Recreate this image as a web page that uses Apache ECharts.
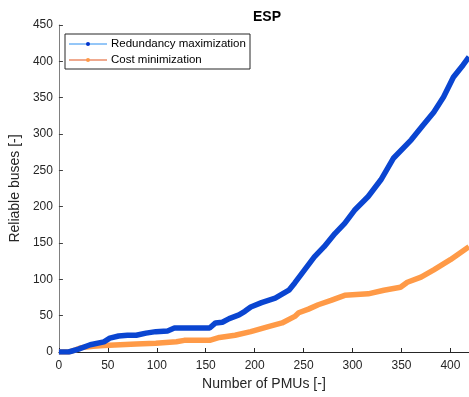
<!DOCTYPE html>
<html>
<head>
<meta charset="utf-8">
<script src="https://cdn.jsdelivr.net/npm/echarts@6/dist/echarts.min.js"></script>
<style>
  html, body { margin: 0; padding: 0; background: #fff; }
  #main { width: 469px; height: 397px; }
</style>
</head>
<body>
<div id="main"></div>
<script>
var xTicks = [0, 50, 100, 150, 200, 250, 300, 350, 400];
var yTicks = [0, 50, 100, 150, 200, 250, 300, 350, 400, 450];

// Redundancy maximization
var redX = [0, 10, 20, 32, 46, 52, 61, 70, 79, 89, 99, 111, 118, 133, 154, 160, 167, 174, 184, 190, 196, 207, 221, 235, 241, 251, 261, 271, 282, 292, 302, 316, 329, 342, 360, 372, 383, 393, 403, 413, 419];
var redY = [0, 0, 4, 10, 14, 19, 22, 23, 23, 26, 28, 29, 33, 33, 33, 40, 41, 46, 51, 56, 62, 68, 74, 85, 95, 113, 131, 145, 163, 177, 195, 214, 237, 267, 292, 312, 330, 351, 378, 395, 406];

// Cost minimization
var costX = [0, 10, 17, 23, 35, 46, 79, 99, 120, 128, 154, 164, 180, 196, 214, 228, 241, 245, 255, 265, 278, 292, 316, 332, 349, 356, 370, 383, 400, 419];
var costY = [0, 0, 3, 6, 8, 9, 11, 12, 14, 16, 16, 20, 23, 28, 35, 40, 49, 54, 59, 65, 71, 78, 80, 85, 89, 96, 103, 113, 127, 145];

function pairs(xs, ys) {
    var out = [];
    for (var i = 0; i < xs.length; i++) out.push([xs[i], ys[i]]);
    return out;
}

var font = 'Liberation Sans, Arial, sans-serif';
var option = {
    backgroundColor: '#fff',
    animation: false,
    title: {
        text: 'ESP',
        left: 262, top: 5, textAlign: 'center',
        textStyle: { fontSize: 14, fontWeight: 'bold', color: '#000', fontFamily: font }
    },
    grid: { left: 55, right: 0, top: 25, bottom: 45 },
    xAxis: {
        type: 'value', min: 0, max: 419, interval: 50,
        name: 'Number of PMUs [-]', nameLocation: 'middle', nameGap: 22,
        nameTextStyle: { fontSize: 14, color: '#262626', fontFamily: font },
        axisLine: { lineStyle: { color: '#262626', width: 1 } },
        axisTick: { inside: true, length: 4, lineStyle: { color: '#262626' } },
        axisLabel: { fontSize: 12, color: '#262626', fontFamily: font, margin: 8, showMaxLabel: false },
        splitLine: { show: false }
    },
    yAxis: {
        type: 'value', min: 0, max: 450, interval: 50,
        name: 'Reliable buses [-]', nameLocation: 'middle', nameGap: 31,
        nameTextStyle: { fontSize: 14, color: '#262626', fontFamily: font },
        axisLine: { show: true, lineStyle: { color: '#808080', width: 1 } },
        axisTick: { show: true, inside: true, length: 4, lineStyle: { color: '#404040' } },
        axisLabel: { fontSize: 12, color: '#262626', fontFamily: font, margin: 6 },
        splitLine: { show: false }
    },
    series: [
        {
            name: 'Redundancy maximization', type: 'line', z: 3,
            data: pairs(redX, redY), showSymbol: false,
            lineStyle: { color: '#0a45d1', width: 5.5 }
        },
        {
            name: 'Cost minimization', type: 'line', z: 2,
            data: pairs(costX, costY), showSymbol: false,
            lineStyle: { color: '#ff9a47', width: 5.5 }
        }
    ],
    graphic: [
        { type: 'rect', shape: { x: 65, y: 34, width: 185, height: 35 }, style: { fill: '#fff', stroke: '#262626', lineWidth: 1 }, z: 10 },
        { type: 'line', shape: { x1: 69, y1: 44, x2: 107, y2: 44 }, style: { stroke: '#2b8ef0', lineWidth: 1 }, z: 11 },
        { type: 'circle', shape: { cx: 88, cy: 44, r: 2 }, style: { fill: '#0033cc' }, z: 12 },
        { type: 'text', x: 111, y: 44, style: { text: 'Redundancy maximization', fontSize: 11.5, fill: '#000', fontFamily: font, verticalAlign: 'middle' }, z: 11 },
        { type: 'line', shape: { x1: 69, y1: 60, x2: 107, y2: 60 }, style: { stroke: '#e0551f', lineWidth: 1 }, z: 11 },
        { type: 'circle', shape: { cx: 88, cy: 60, r: 2 }, style: { fill: '#ff9a47' }, z: 12 },
        { type: 'text', x: 111, y: 60, style: { text: 'Cost minimization', fontSize: 11.5, fill: '#000', fontFamily: font, verticalAlign: 'middle' }, z: 11 }
    ]
};

var myChart = echarts.init(document.getElementById('main'));
myChart.setOption(option);
</script>
</body>
</html>
